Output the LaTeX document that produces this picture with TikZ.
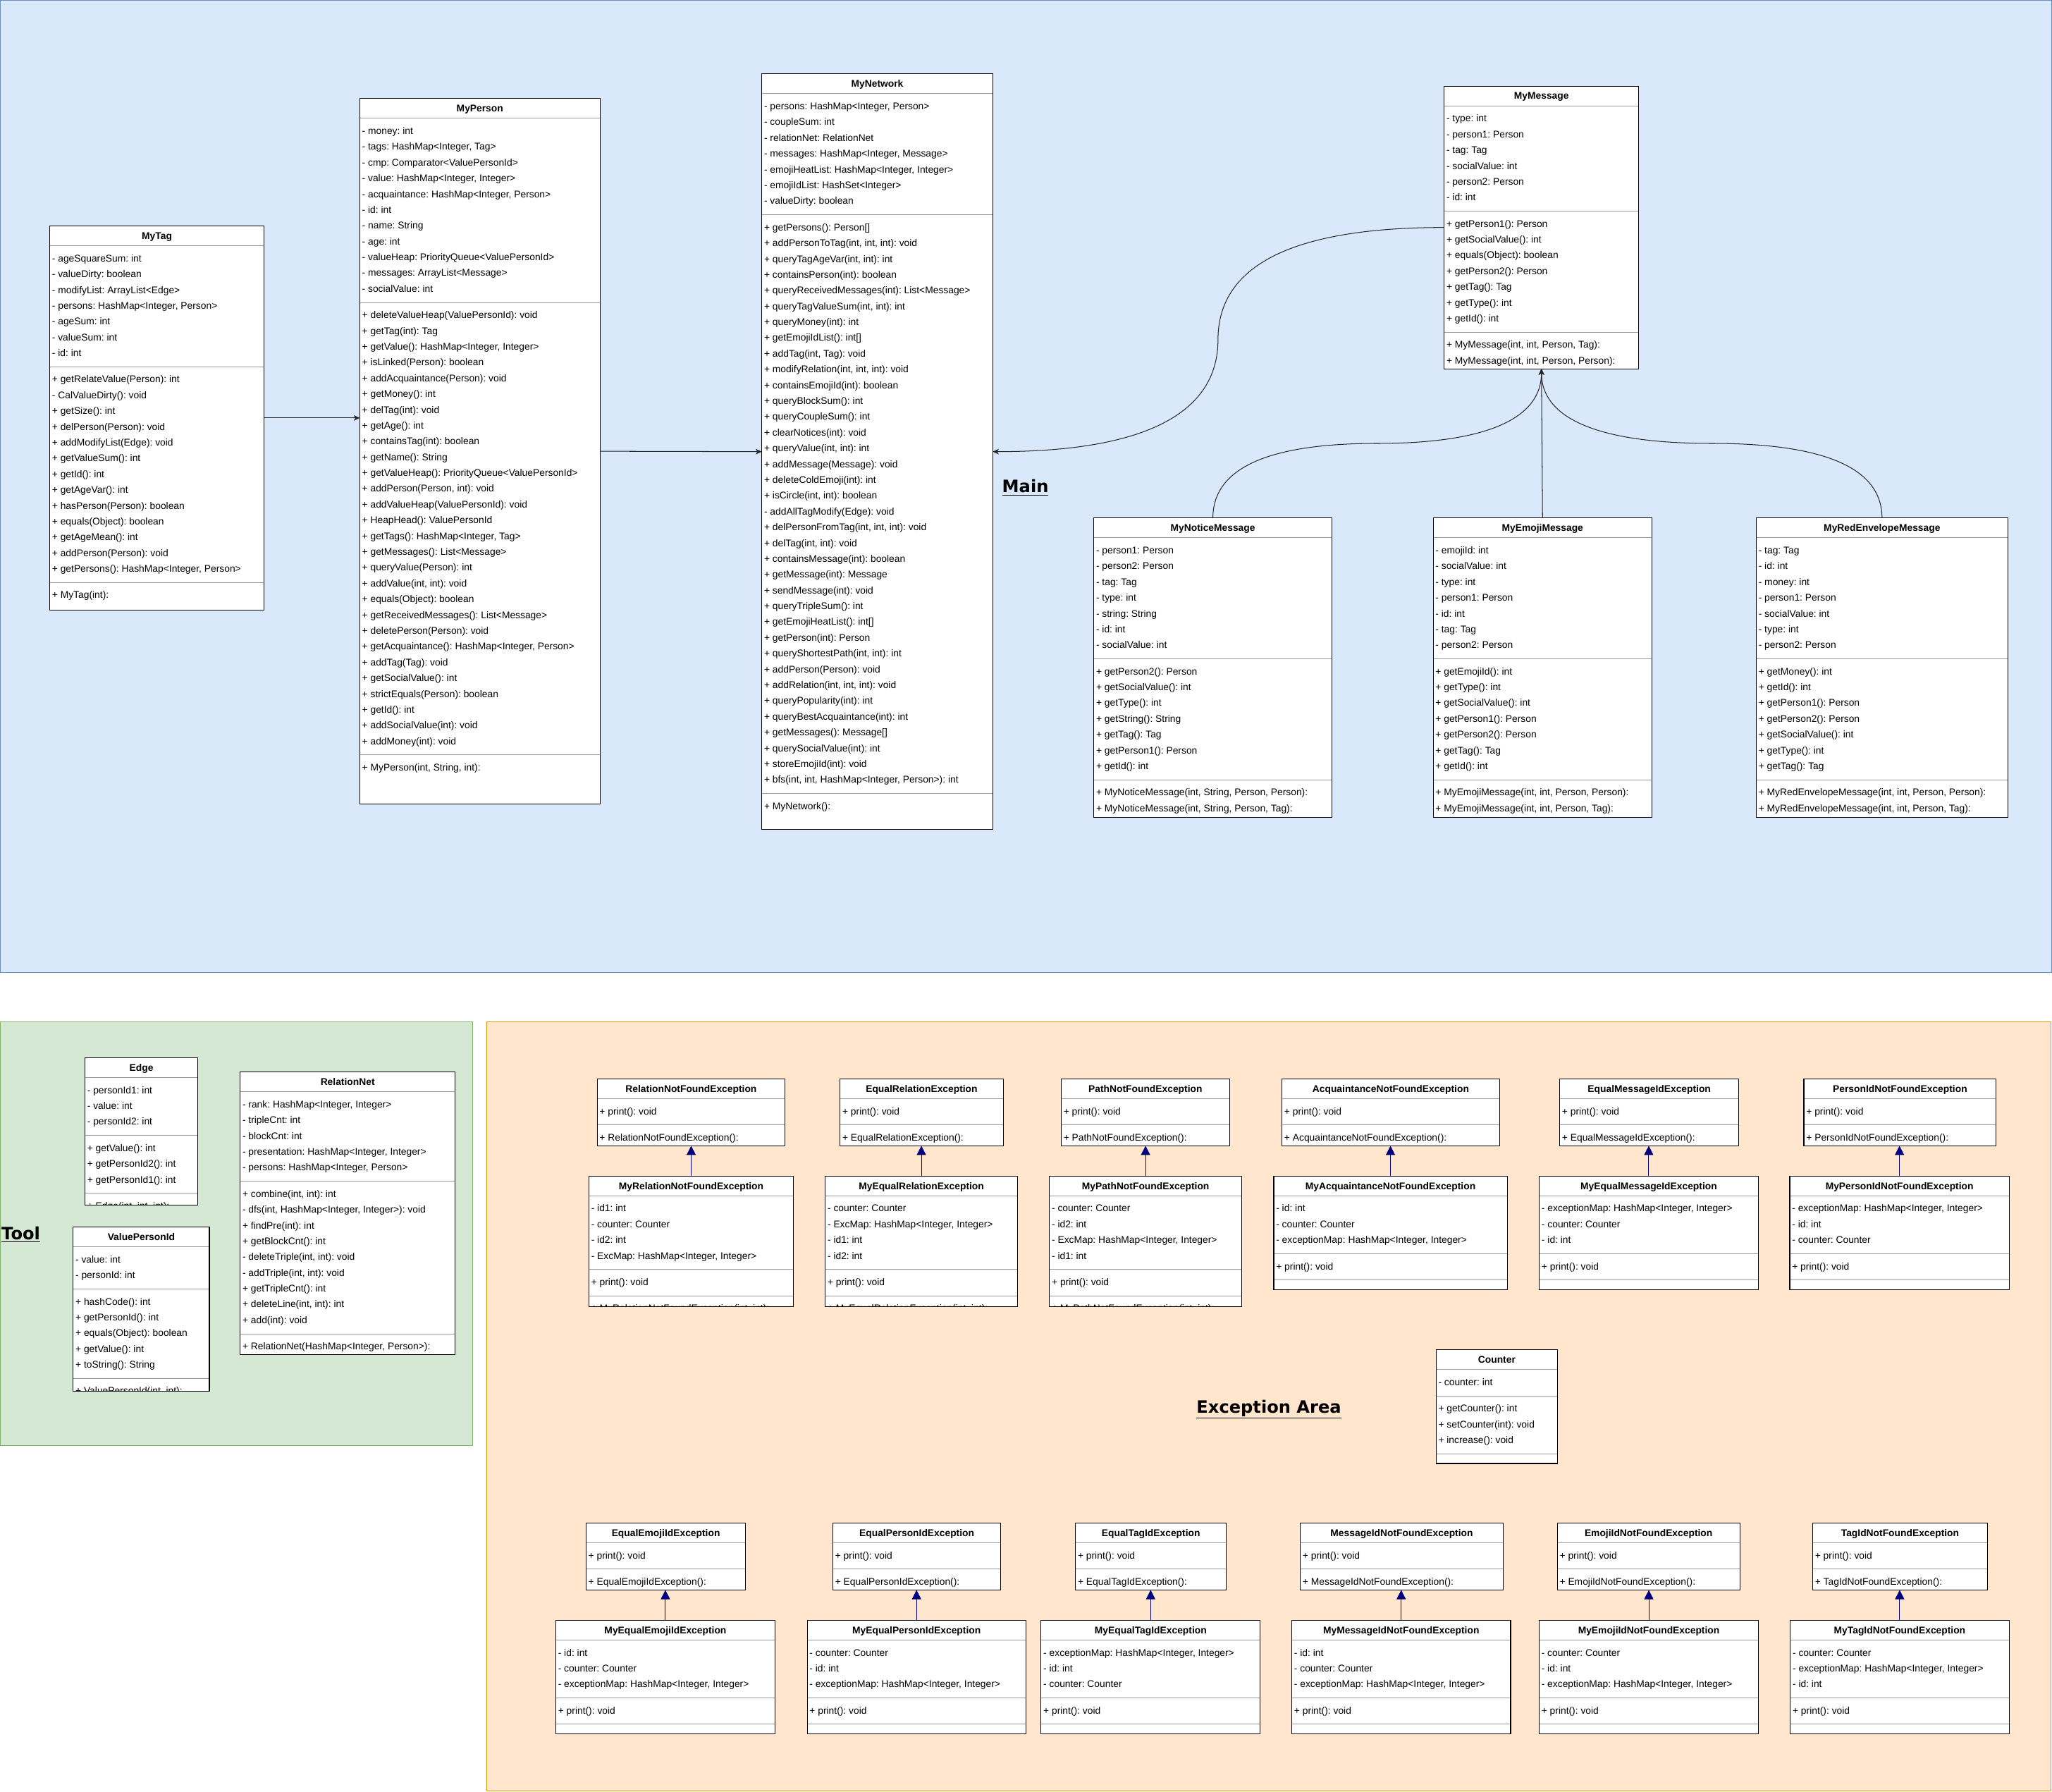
\documentclass[tikz,border=0pt]{standalone}
\usepackage{fontspec}
\setmainfont{Liberation Sans}
\newfontfamily\lblfont{DejaVu Sans}
\usetikzlibrary{arrows.meta,calc}

\definecolor{mainfill}{HTML}{DAE8FC}
\definecolor{mainline}{HTML}{6C8EBF}
\definecolor{toolfill}{HTML}{D5E8D4}
\definecolor{toolline}{HTML}{82B366}
\definecolor{excfill}{HTML}{FFE6CC}
\definecolor{excline}{HTML}{D79B00}
\definecolor{sepgray}{HTML}{999999}
\definecolor{inhnavy}{HTML}{000080}

\newcommand\rowfont{\fontsize{7.45}{9}\selectfont\frenchspacing}
\newcommand\ttlfont{\fontsize{7.45}{9}\selectfont\bfseries\frenchspacing}

\tikzset{
  clsbox/.style={draw=black, line width=0.6pt, fill=white, inner sep=0pt, outer sep=0pt, anchor=north west},
  sepl/.style={draw=sepgray, line width=0.5pt},
  rowt/.style={anchor=base west, inner sep=0pt, font=\rowfont, text=black},
  ttlt/.style={anchor=base, inner sep=0pt, font=\ttlfont},
  assoc/.style={draw=black!85, line width=0.55pt, -{Stealth[length=4.6pt,width=4.2pt,inset=1.2pt]}},
  inh/.style={draw=inhnavy, line width=0.5pt, -{Triangle[length=7pt,width=7pt]}},
  region/.style={anchor=north west, inner sep=0pt, outer sep=0pt, line width=0.55pt},
  biglbl/.style={font=\lblfont\fontsize{13}{15}\selectfont\bfseries, inner sep=0pt},
}

\newcommand\umlsec[5]{%
  \gdef\umlnrows{0}%
  \if\relax\detokenize{#4}\relax\else
    \foreach \umlt [count=\umli from 0] in {#4} {%
      \node[rowt] (#1-\umli) at (#2+1.6, \umly+12.2+\umli*12.06) {\umlt};
      \xdef\umlnrows{\the\numexpr\umli+1\relax}}%
  \fi
  \ifnum#5=1
    \pgfmathsetmacro\umly{\umly+\umlnrows*12.06+8.04}%
    \draw[sepl] (#2,\umly) -- ++(#3,0);
  \fi
}

\newcommand\umlclass[9]{%
  \node[clsbox, minimum width=#4pt, minimum height=#5pt] (#1) at (#2,#3) {};
  \node[ttlt] (#1-title) at (#2+#4/2, #3+10.1) {#6};
  \begin{scope}
    \clip (#1.north west) rectangle (#1.south east);
    \pgfmathsetmacro\umly{#3+15.1}%
    \draw[sepl] (#2,\umly) -- ++(#4,0);
    \umlsec{#1-a}{#2}{#4}{#7}{1}%
    \umlsec{#1-m}{#2}{#4}{#8}{1}%
    \umlsec{#1-c}{#2}{#4}{#9}{0}%
  \end{scope}
  \draw[line width=0.6pt] (#1.north west) rectangle (#1.south east);
}

% base exception: id x y w name
\newcommand\excbase[5]{%
  \umlclass{#1}{#2}{#3}{#4}{51.2}{#5}{+ print(): void}{+ #5():}{}}
% derived exception: id x y w h name attrs ctor
\newcommand\excder[8]{%
  \umlclass{#1}{#2}{#3}{#4}{#5}{#6}{#7}{+ print(): void}{#8}}

\begin{document}
\frenchspacing
\begin{tikzpicture}[x=1pt, y=-1pt]
\useasboundingbox (0,0) rectangle (1568,1368.7);

% ---------- areas ----------
\node[region, fill=mainfill, draw=mainline, minimum width=1567.4pt, minimum height=743pt] (mainarea) at (0.3,0.3) {};
\node[region, fill=toolfill, draw=toolline, minimum width=360.7pt, minimum height=323.5pt] (toolarea) at (0.3,781) {};
\node[region, fill=excfill, draw=excline, minimum width=1195.4pt, minimum height=587.3pt] (excarea) at (372,781) {};

\node[biglbl, anchor=base] (mainlbl) at (783.5,376.5) {\underline{Main}};
\node[biglbl, anchor=base west] (toollbl) at (1.0,947) {\underline{Tool}};
\node[biglbl, anchor=base] (exclbl) at (969.6,1079.5) {\underline{Exception Area}};

% ---------- Main ----------
\umlclass{tag}{38.0}{172.7}{163.8}{293.3}{MyTag}
{- ageSquareSum: int, - valueDirty: boolean, - modifyList: ArrayList<Edge>, {- persons: HashMap<Integer, Person>}, - ageSum: int, - valueSum: int, - id: int}
{+ getRelateValue(Person): int, - CalValueDirty(): void, + getSize(): int, + delPerson(Person): void, + addModifyList(Edge): void, + getValueSum(): int, + getId(): int, + getAgeVar(): int, + hasPerson(Person): boolean, + equals(Object): boolean, + getAgeMean(): int, + addPerson(Person): void, {+ getPersons(): HashMap<Integer, Person>}}
{+ MyTag(int):}

\umlclass{person}{274.9}{75.3}{183.6}{539.0}{MyPerson}
{- money: int, {- tags: HashMap<Integer, Tag>}, - cmp: Comparator<ValuePersonId>, {- value: HashMap<Integer, Integer>}, {- acquaintance: HashMap<Integer, Person>}, - id: int, - name: String, - age: int, - valueHeap: PriorityQueue<ValuePersonId>, - messages: ArrayList<Message>, - socialValue: int}
{+ deleteValueHeap(ValuePersonId): void, + getTag(int): Tag, {+ getValue(): HashMap<Integer, Integer>}, + isLinked(Person): boolean, + addAcquaintance(Person): void, + getMoney(): int, + delTag(int): void, + getAge(): int, + containsTag(int): boolean, + getName(): String, + getValueHeap(): PriorityQueue<ValuePersonId>, {+ addPerson(Person, int): void}, + addValueHeap(ValuePersonId): void, + HeapHead(): ValuePersonId, {+ getTags(): HashMap<Integer, Tag>}, + getMessages(): List<Message>, + queryValue(Person): int, {+ addValue(int, int): void}, + equals(Object): boolean, + getReceivedMessages(): List<Message>, + deletePerson(Person): void, {+ getAcquaintance(): HashMap<Integer, Person>}, + addTag(Tag): void, + getSocialValue(): int, + strictEquals(Person): boolean, + getId(): int, + addSocialValue(int): void, + addMoney(int): void}
{{+ MyPerson(int, String, int):}}

\umlclass{net}{582.1}{56.5}{176.5}{577.2}{MyNetwork}
{{- persons: HashMap<Integer, Person>}, - coupleSum: int, - relationNet: RelationNet, {- messages: HashMap<Integer, Message>}, {- emojiHeatList: HashMap<Integer, Integer>}, - emojiIdList: HashSet<Integer>, - valueDirty: boolean}
{+ getPersons(): Person[], {+ addPersonToTag(int, int, int): void}, {+ queryTagAgeVar(int, int): int}, + containsPerson(int): boolean, + queryReceivedMessages(int): List<Message>, {+ queryTagValueSum(int, int): int}, + queryMoney(int): int, + getEmojiIdList(): int[], {+ addTag(int, Tag): void}, {+ modifyRelation(int, int, int): void}, + containsEmojiId(int): boolean, + queryBlockSum(): int, + queryCoupleSum(): int, + clearNotices(int): void, {+ queryValue(int, int): int}, + addMessage(Message): void, + deleteColdEmoji(int): int, {+ isCircle(int, int): boolean}, - addAllTagModify(Edge): void, {+ delPersonFromTag(int, int, int): void}, {+ delTag(int, int): void}, + containsMessage(int): boolean, + getMessage(int): Message, + sendMessage(int): void, + queryTripleSum(): int, + getEmojiHeatList(): int[], + getPerson(int): Person, {+ queryShortestPath(int, int): int}, + addPerson(Person): void, {+ addRelation(int, int, int): void}, + queryPopularity(int): int, + queryBestAcquaintance(int): int, + getMessages(): Message[], + querySocialValue(int): int, + storeEmojiId(int): void, {+ bfs(int, int, HashMap<Integer, Person>): int}}
{+ MyNetwork():}

\umlclass{msg}{1103.5}{65.8}{148.7}{216.0}{MyMessage}
{- type: int, - person1: Person, - tag: Tag, - socialValue: int, - person2: Person, - id: int}
{+ getPerson1(): Person, + getSocialValue(): int, + equals(Object): boolean, + getPerson2(): Person, + getTag(): Tag, + getType(): int, + getId(): int}
{{+ MyMessage(int, int, Person, Tag):}, {+ MyMessage(int, int, Person, Person):}}

\umlclass{notice}{835.8}{395.8}{182.0}{228.9}{MyNoticeMessage}
{- person1: Person, - person2: Person, - tag: Tag, - type: int, - string: String, - id: int, - socialValue: int}
{+ getPerson2(): Person, + getSocialValue(): int, + getType(): int, + getString(): String, + getTag(): Tag, + getPerson1(): Person, + getId(): int}
{{+ MyNoticeMessage(int, String, Person, Person):}, {+ MyNoticeMessage(int, String, Person, Tag):}}

\umlclass{emoji}{1095.1}{395.8}{167.2}{228.9}{MyEmojiMessage}
{- emojiId: int, - socialValue: int, - type: int, - person1: Person, - id: int, - tag: Tag, - person2: Person}
{+ getEmojiId(): int, + getType(): int, + getSocialValue(): int, + getPerson1(): Person, + getPerson2(): Person, + getTag(): Tag, + getId(): int}
{{+ MyEmojiMessage(int, int, Person, Person):}, {+ MyEmojiMessage(int, int, Person, Tag):}}

\umlclass{red}{1342.0}{395.8}{192.2}{228.9}{MyRedEnvelopeMessage}
{- tag: Tag, - id: int, - money: int, - person1: Person, - socialValue: int, - type: int, - person2: Person}
{+ getMoney(): int, + getId(): int, + getPerson1(): Person, + getPerson2(): Person, + getSocialValue(): int, + getType(): int, + getTag(): Tag}
{{+ MyRedEnvelopeMessage(int, int, Person, Person):}, {+ MyRedEnvelopeMessage(int, int, Person, Tag):}}

\draw[assoc] (tag.east) -- (tag.east -| person.west);
\draw[assoc] (person.east) -- (net.west);
\draw[assoc] (msg.west) .. controls (988.3,173.8) and (930.7,202.4) .. (930.7,259.5) .. controls (930.7,316.6) and (873.3,345.1) .. (net.east);
\draw[assoc] (notice.north) .. controls (926.8,357.8) and (968.6,338.8) .. (1052.3,338.8) .. controls (1136.0,338.8) and (1177.85,319.8) .. (msg.south);
\draw[assoc] (emoji.north) -- (msg.south);
\draw[assoc] (red.north) .. controls (1438.1,357.8) and (1394.7,338.8) .. (1308.0,338.8) .. controls (1221.3,338.8) and (1177.85,319.8) .. (msg.south);

% ---------- Tool ----------
\umlclass{edge}{64.9}{808.2}{86.3}{112.6}{Edge}
{- personId1: int, - value: int, - personId2: int}
{+ getValue(): int, + getPersonId2(): int, + getPersonId1(): int}
{{+ Edge(int, int, int):}}

\umlclass{vpid}{55.9}{937.6}{104.1}{125.6}{ValuePersonId}
{- value: int, - personId: int}
{+ hashCode(): int, + getPersonId(): int, + equals(Object): boolean, + getValue(): int, + toString(): String}
{{+ ValuePersonId(int, int):}}

\umlclass{relnet}{183.5}{819.1}{164.3}{215.8}{RelationNet}
{{- rank: HashMap<Integer, Integer>}, - tripleCnt: int, - blockCnt: int, {- presentation: HashMap<Integer, Integer>}, {- persons: HashMap<Integer, Person>}}
{{+ combine(int, int): int}, {- dfs(int, HashMap<Integer, Integer>): void}, + findPre(int): int, + getBlockCnt(): int, {- deleteTriple(int, int): void}, {- addTriple(int, int): void}, + getTripleCnt(): int, {+ deleteLine(int, int): int}, + add(int): void}
{{+ RelationNet(HashMap<Integer, Person>):}}

% ---------- Exceptions ----------
\umlclass{counter}{1097.3}{1031.3}{92.9}{86.9}{Counter}
{- counter: int}
{+ getCounter(): int, + setCounter(int): void, + increase(): void}
{}

\excbase{relnf}{456.3}{824.3}{143.6}{RelationNotFoundException}
\excder{myrelnf}{450.0}{898.6}{156.3}{99.7}{MyRelationNotFoundException}{- id1: int, - counter: Counter, - id2: int, {- ExcMap: HashMap<Integer, Integer>}}{{+ MyRelationNotFoundException(int, int):}}
\excbase{eqrel}{641.9}{824.3}{124.7}{EqualRelationException}
\excder{myeqrel}{630.6}{898.6}{146.9}{99.7}{MyEqualRelationException}{- counter: Counter, {- ExcMap: HashMap<Integer, Integer>}, - id1: int, - id2: int}{{+ MyEqualRelationException(int, int):}}
\excbase{pathnf}{810.9}{824.3}{128.6}{PathNotFoundException}
\excder{mypathnf}{801.9}{898.6}{146.9}{99.7}{MyPathNotFoundException}{- counter: Counter, - id2: int, {- ExcMap: HashMap<Integer, Integer>}, - id1: int}{{+ MyPathNotFoundException(int, int):}}
\excbase{acqnf}{979.6}{824.3}{166.2}{AcquaintanceNotFoundException}
\excder{myacqnf}{973.3}{898.6}{178.4}{86.8}{MyAcquaintanceNotFoundException}{- id: int, - counter: Counter, {- exceptionMap: HashMap<Integer, Integer>}}{}
\excbase{eqmsg}{1191.8}{824.3}{136.9}{EqualMessageIdException}
\excder{myeqmsg}{1176.2}{898.6}{167.3}{86.8}{MyEqualMessageIdException}{{- exceptionMap: HashMap<Integer, Integer>}, - counter: Counter, - id: int}{}
\excbase{pidnf}{1378.4}{824.3}{146.9}{PersonIdNotFoundException}
\excder{mypidnf}{1367.6}{898.6}{167.7}{86.8}{MyPersonIdNotFoundException}{{- exceptionMap: HashMap<Integer, Integer>}, - id: int, - counter: Counter}{}

\excbase{eqemo}{447.8}{1163.7}{122.0}{EqualEmojiIdException}
\excder{myeqemo}{424.7}{1238.0}{167.5}{86.7}{MyEqualEmojiIdException}{- id: int, - counter: Counter, {- exceptionMap: HashMap<Integer, Integer>}}{}
\excbase{eqpid}{636.4}{1163.7}{128.3}{EqualPersonIdException}
\excder{myeqpid}{616.8}{1238.0}{167.1}{86.7}{MyEqualPersonIdException}{- counter: Counter, - id: int, {- exceptionMap: HashMap<Integer, Integer>}}{}
\excbase{eqtag}{821.8}{1163.7}{115.3}{EqualTagIdException}
\excder{myeqtag}{795.5}{1238.0}{167.5}{86.7}{MyEqualTagIdException}{{- exceptionMap: HashMap<Integer, Integer>}, - id: int, - counter: Counter}{}
\excbase{msgnf}{993.6}{1163.7}{155.0}{MessageIdNotFoundException}
\excder{mymsgnf}{987.1}{1238.0}{167.2}{86.7}{MyMessageIdNotFoundException}{- id: int, - counter: Counter, {- exceptionMap: HashMap<Integer, Integer>}}{}
\excbase{emonf}{1190.0}{1163.7}{139.4}{EmojiIdNotFoundException}
\excder{myemonf}{1176.1}{1238.0}{167.6}{86.7}{MyEmojiIdNotFoundException}{- counter: Counter, - id: int, {- exceptionMap: HashMap<Integer, Integer>}}{}
\excbase{tagnf}{1385.1}{1163.7}{133.6}{TagIdNotFoundException}
\excder{mytagnf}{1368.0}{1238.0}{167.2}{86.7}{MyTagIdNotFoundException}{- counter: Counter, {- exceptionMap: HashMap<Integer, Integer>}, - id: int}{}

\foreach \d/\b in {myrelnf/relnf, myeqrel/eqrel, mypathnf/pathnf, myacqnf/acqnf, myeqmsg/eqmsg, mypidnf/pidnf, myeqemo/eqemo, myeqpid/eqpid, myeqtag/eqtag, mymsgnf/msgnf, myemonf/emonf, mytagnf/tagnf}
  \draw[inh] (\d.north) -- (\d.north |- \b.south);

\end{tikzpicture}
\end{document}
